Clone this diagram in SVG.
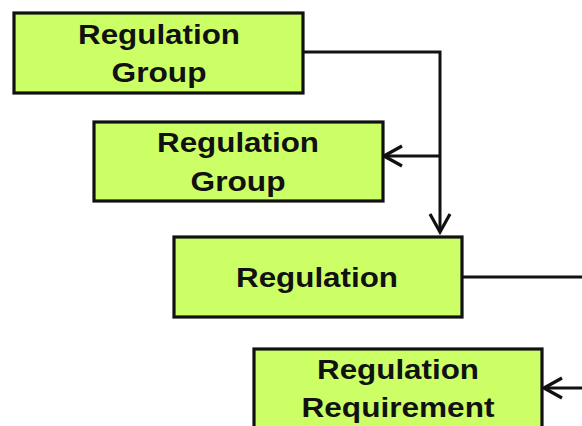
<svg xmlns="http://www.w3.org/2000/svg" width="582" height="426" viewBox="0 0 582 426">
<style>
.box{fill:#ccff66;stroke:#111;stroke-width:3.2}
.t{font-family:"Liberation Sans",Arial,sans-serif;font-weight:bold;font-size:27px;fill:#111;text-anchor:middle}
.c{fill:none;stroke:#111;stroke-width:3}
</style>
<defs>
<marker id="ah" viewBox="0 0 24 24" refX="21" refY="12" markerWidth="24" markerHeight="24" markerUnits="userSpaceOnUse" orient="auto">
<path d="M3,2 L21,12 L3,22" fill="none" stroke="#111" stroke-width="3.2"/>
</marker>
</defs>
<rect width="582" height="426" fill="#fff"/>
<g id="connectors">
<path class="c" d="M303,52 H440 V232" marker-end="url(#ah)"/>
<path class="c" d="M440,156 H384" marker-end="url(#ah)"/>
<path class="c" d="M463,277 H582"/>
<path class="c" d="M582,388 H544" marker-end="url(#ah)"/>
</g>
<g id="n1">
<rect class="box" x="14" y="13" width="289" height="80"/>
<text class="t" x="159" y="44" textLength="162" lengthAdjust="spacingAndGlyphs">Regulation</text>
<text class="t" x="159" y="82" textLength="95" lengthAdjust="spacingAndGlyphs">Group</text>
</g>
<g id="n2">
<rect class="box" x="94" y="122" width="289" height="79"/>
<text class="t" x="238" y="152" textLength="162" lengthAdjust="spacingAndGlyphs">Regulation</text>
<text class="t" x="238" y="191" textLength="95" lengthAdjust="spacingAndGlyphs">Group</text>
</g>
<g id="n3">
<rect class="box" x="174" y="237" width="288" height="80"/>
<text class="t" x="317" y="287" textLength="162" lengthAdjust="spacingAndGlyphs">Regulation</text>
</g>
<g id="n4">
<rect class="box" x="254" y="349" width="288" height="85"/>
<text class="t" x="398" y="379" textLength="162" lengthAdjust="spacingAndGlyphs">Regulation</text>
<text class="t" x="398" y="417" textLength="193" lengthAdjust="spacingAndGlyphs">Requirement</text>
</g>
</svg>
